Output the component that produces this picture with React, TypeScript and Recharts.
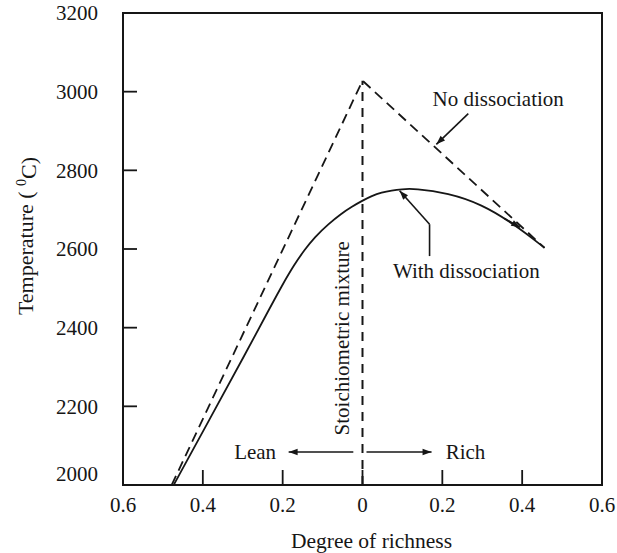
import React from "react";
import { LineChart, Line, XAxis, YAxis, ReferenceLine, ReferenceDot, ReferenceArea } from "recharts";

const xTicks = [-0.6, -0.4, -0.2, 0, 0.2, 0.4, 0.6];
const xTickLabels = ["0.6", "0.4", "0.2", "0", "0.2", "0.4", "0.6"];
const yTicks = [2000, 2200, 2400, 2600, 2800, 3000, 3200];

const noDissX = [-0.478, 0, 0.456];
const noDissT = [2000, 3028, 2603];

const withDissX = [-0.473, -0.38, -0.29, -0.24, -0.203, -0.17, -0.145, -0.12, -0.085, -0.053, -0.028, 0, 0.023, 0.048, 0.073, 0.098, 0.13, 0.215, 0.298, 0.38, 0.456];
const withDissT = [2000, 2173, 2340, 2435, 2505, 2562, 2598, 2630, 2664, 2690, 2707, 2723, 2735, 2744, 2749, 2752, 2754, 2742, 2714, 2663, 2603];

const stoichX = [0, 0];
const stoichT = [2000, 3028];

const noDissData = noDissX.map((x, i) => ({ x, t: noDissT[i] }));
const withDissData = withDissX.map((x, i) => ({ x, t: withDissT[i] }));
const stoichData = stoichX.map((x, i) => ({ x, t: stoichT[i] }));

const FONT = "'Liberation Serif', 'Times New Roman', serif";
const INK = "#161616";

const arrow = (head: boolean) => (props: any) => {
  const { x1, y1, x2, y2 } = props;
  const dx = x2 - x1;
  const dy = y2 - y1;
  const len = Math.sqrt(dx * dx + dy * dy) || 1;
  const ux = dx / len;
  const uy = dy / len;
  const L = 9;
  const W = 3.2;
  const bx = x2 - ux * L;
  const by = y2 - uy * L;
  return (
    <g>
      <line x1={x1} y1={y1} x2={x2} y2={y2} stroke={INK} strokeWidth={1.6} />
      {head && (
        <polygon
          points={`${x2},${y2} ${bx - uy * W},${by + ux * W} ${bx + uy * W},${by - ux * W}`}
          fill={INK}
        />
      )}
    </g>
  );
};

const textShape = (label: string, anchor: string, rotate = false) => (props: any) => {
  const { cx, cy } = props;
  return (
    <text
      x={cx}
      y={cy}
      dy="0.35em"
      textAnchor={anchor}
      fontFamily={FONT}
      fontSize={21}
      fill={INK}
      transform={rotate ? `rotate(-90, ${cx}, ${cy})` : undefined}
    >
      {label}
    </text>
  );
};

const YTick = (props: any) => {
  const { x, y, payload } = props;
  const shift = payload.value === 2000 ? -11 : 0;
  return (
    <g>
      <line x1={x} y1={y} x2={x + 14} y2={y} stroke={INK} strokeWidth={1.8} />
      <text x={x - 25} y={y + shift} dy="0.35em" textAnchor="end" fontFamily={FONT} fontSize={21} fill={INK}>
        {payload.value}
      </text>
    </g>
  );
};

const XTick = (props: any) => {
  const { x, y, index } = props;
  return (
    <g>
      <line x1={x} y1={y} x2={x} y2={y - 15} stroke={INK} strokeWidth={1.8} />
      <text x={x} y={y + 27} textAnchor="middle" fontFamily={FONT} fontSize={21} fill={INK}>
        {xTickLabels[index]}
      </text>
    </g>
  );
};

export default function App() {
  return (
    <div style={{ position: "absolute", left: 0, top: 0, width: 617, height: 553, overflow: "hidden" }}>
      <LineChart width={617} height={553} margin={{ top: 13, right: 15, bottom: 0, left: 0 }} style={{ overflow: "visible" }}>
        <XAxis
          type="number"
          dataKey="x"
          domain={[-0.6, 0.6]}
          ticks={xTicks}
          tickSize={0}
          tickMargin={0}
          height={68}
          stroke={INK}
          strokeWidth={2}
          tick={XTick}
          interval={0}
          allowDataOverflow
          label={{
            content: (p: any) => {
              const vb = p.viewBox;
              return (
                <text x={vb.x + vb.width / 2 + 9} y={vb.y + 63} textAnchor="middle" fontFamily={FONT} fontSize={21.5} fill={INK}>
                  Degree of richness
                </text>
              );
            },
          }}
        />
        <YAxis
          type="number"
          dataKey="t"
          domain={[2000, 3200]}
          ticks={yTicks}
          tickSize={0}
          tickMargin={0}
          width={123}
          stroke={INK}
          strokeWidth={2}
          tick={YTick}
          interval={0}
          allowDataOverflow
          label={{
            content: (p: any) => {
              const vb = p.viewBox;
              const cx = 25;
              const cy = vb.y + 223;
              return (
                <text x={cx} y={cy} dy="0.35em" textAnchor="middle" fontFamily={FONT} fontSize={22} fill={INK} transform={`rotate(-90, ${cx}, ${cy})`}>
                  {"Temperature ( "}
                  <tspan dy="-0.45em" fontSize={14}>0</tspan>
                  <tspan dy="0.45em">C)</tspan>
                </text>
              );
            },
          }}
        />
        <ReferenceArea x1={-0.6} x2={0.6} y1={2000} y2={3200} fill="none" stroke={INK} strokeWidth={2} />
        <Line data={stoichData} dataKey="t" type="linear" stroke={INK} strokeWidth={2} strokeDasharray="9 7" dot={false} isAnimationActive={false} />
        <Line data={noDissData} dataKey="t" type="linear" stroke={INK} strokeWidth={1.8} strokeDasharray="10 6" dot={false} isAnimationActive={false} />
        <Line data={withDissData} dataKey="t" type="basis" stroke={INK} strokeWidth={1.8} dot={false} isAnimationActive={false} />

        <ReferenceLine segment={[{ x: 0.265, y: 2944 }, { x: 0.185, y: 2866 }]} shape={arrow(true)} />
        <ReferenceLine segment={[{ x: 0.355, y: 2678 }, { x: 0.395, y: 2655 }]} shape={arrow(true)} />
        <ReferenceLine segment={[{ x: 0.168, y: 2582 }, { x: 0.168, y: 2663 }]} shape={arrow(false)} />
        <ReferenceLine segment={[{ x: 0.168, y: 2663 }, { x: 0.093, y: 2748 }]} shape={arrow(true)} />
        <ReferenceLine segment={[{ x: -0.023, y: 2084 }, { x: -0.185, y: 2084 }]} shape={arrow(true)} />
        <ReferenceLine segment={[{ x: 0.01, y: 2084 }, { x: 0.173, y: 2084 }]} shape={arrow(true)} />

        <ReferenceDot x={0.34} y={2982} r={0} shape={textShape("No dissociation", "middle")} />
        <ReferenceDot x={0.26} y={2544} r={0} shape={textShape("With dissociation", "middle")} />
        <ReferenceDot x={-0.269} y={2084} r={0} shape={textShape("Lean", "middle")} />
        <ReferenceDot x={0.258} y={2084} r={0} shape={textShape("Rich", "middle")} />
        <ReferenceDot x={-0.053} y={2373} r={0} shape={textShape("Stoichiometric mixture", "middle", true)} />
      </LineChart>
    </div>
  );
}
